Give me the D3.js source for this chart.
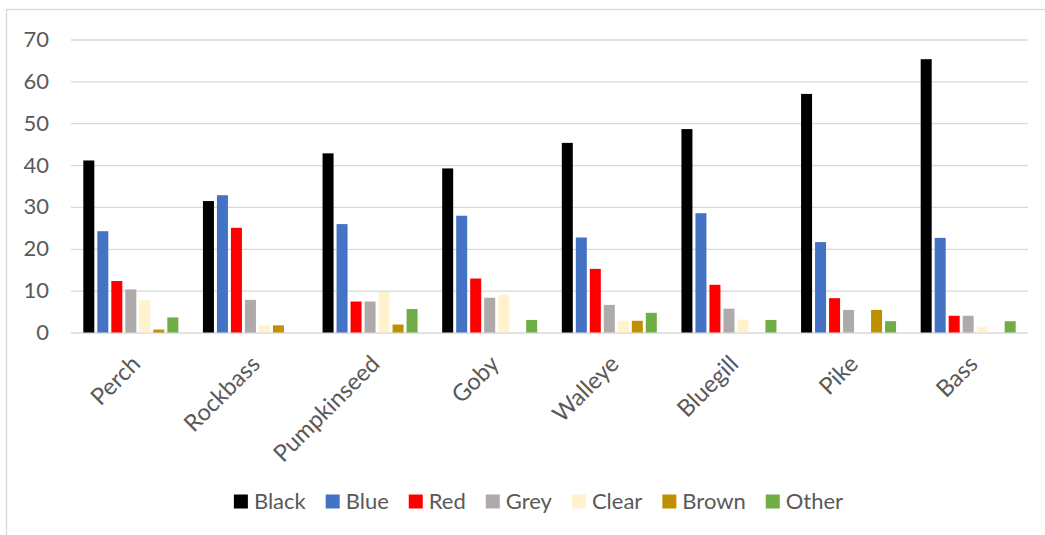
<!DOCTYPE html>
<html>
<head>
<meta charset="utf-8">
<script src="https://cdn.jsdelivr.net/npm/d3@7/dist/d3.min.js"></script>
<style>
  html, body { margin: 0; padding: 0; background: #ffffff; }
  svg { display: block; }
  text { font-family: Lato, "Open Sans", sans-serif; fill: #595959; }
</style>
</head>
<body>
<svg id="chart" width="1045" height="535"></svg>
<script>
const categories = ["Perch", "Rockbass", "Pumpkinseed", "Goby", "Walleye", "Bluegill", "Pike", "Bass"];
const seriesNames = ["Black", "Blue", "Red", "Grey", "Clear", "Brown", "Other"];
const seriesColors = ["#000000", "#4472C4", "#FF0000", "#AEAAAA", "#FFF2CC", "#BF9000", "#70AD47"];

const black = [41.1, 31.4, 42.8, 39.2, 45.3, 48.6, 57.0, 65.3];
const blue  = [24.2, 32.8, 25.9, 27.9, 22.7, 28.5, 21.6, 22.6];
const red   = [12.3, 25.0, 7.4, 12.9, 15.2, 11.4, 8.2, 4.0];
const grey  = [10.3, 7.8, 7.4, 8.3, 6.6, 5.7, 5.4, 4.0];
const clear = [7.7, 1.7, 9.7, 9.0, 2.8, 3.1, 0, 1.4];
const brown = [0.7, 1.7, 1.9, 0, 2.8, 0, 5.4, 0];
const other = [3.6, 0, 5.6, 3.0, 4.7, 3.0, 2.7, 2.7];

const yTicks = [0, 10, 20, 30, 40, 50, 60, 70];

const seriesValues = [black, blue, red, grey, clear, brown, other];

const svg = d3.select("#chart");

// chart border (extends past right/bottom edges)
svg.append("rect")
  .attr("x", 6.5).attr("y", 9.5)
  .attr("width", 1100).attr("height", 600)
  .attr("fill", "none").attr("stroke", "#D9D9D9").attr("stroke-width", 1.3);

const plot = { left: 71, right: 1028, top: 39.5, bottom: 332.5 };

const x0 = d3.scaleBand().domain(categories).range([plot.left, plot.right]).padding(0);
const groupWidth = 95;
const x1 = d3.scaleBand().domain(seriesNames).range([0, groupWidth]).paddingInner(3 / 14).paddingOuter(0);
const groupOffset = (x0.bandwidth() - groupWidth) / 2;
const y = d3.scaleLinear().domain([0, 70]).range([plot.bottom, plot.top]);

// gridlines
const yAxis = d3.axisLeft(y).tickValues(yTicks).tickSize(-(plot.right - plot.left)).tickPadding(22).tickFormat(d3.format("d"));
const gy = svg.append("g").attr("transform", `translate(${plot.left},0)`).call(yAxis);
gy.select(".domain").remove();
gy.selectAll(".tick line").attr("stroke", "#D9D9D9").attr("stroke-width", 1.3);
gy.selectAll(".tick text").attr("font-size", "22px").attr("fill", "#595959")
  .style("font-family", "Lato, 'Open Sans', sans-serif");

// bars
const groups = svg.append("g").selectAll("g")
  .data(categories)
  .join("g")
  .attr("transform", d => `translate(${x0(d) + groupOffset},0)`);

groups.selectAll("rect")
  .data((c, ci) => seriesNames.map((s, si) => ({ s, si, v: seriesValues[si][ci] })))
  .join("rect")
  .attr("x", d => x1(d.s))
  .attr("width", x1.bandwidth())
  .attr("y", d => y(d.v))
  .attr("height", d => y(0) - y(d.v))
  .attr("fill", d => seriesColors[d.si]);

// x axis labels (rotated)
const xAxis = d3.axisBottom(x0).tickSize(0).tickPadding(0);
const gx = svg.append("g").attr("transform", `translate(0,${plot.bottom})`).call(xAxis);
gx.select(".domain").remove();
gx.selectAll(".tick text")
  .attr("font-size", "23.5px").attr("fill", "#595959")
  .style("font-family", "Lato, 'Open Sans', sans-serif")
  .attr("text-anchor", "end")
  .attr("dy", null)
  .attr("y", null)
  .attr("transform", "translate(11,33) rotate(-45)");

// legend
const legend = svg.append("g");
const items = legend.selectAll("g").data(seriesNames).join("g");
items.append("rect").attr("width", 14).attr("height", 14).attr("y", 494.5)
  .attr("fill", (d, i) => seriesColors[i]);
items.append("text").text(d => d).attr("x", 20).attr("y", 508.5)
  .attr("font-size", "22px");
const widths = [];
items.each(function () {
  const w = d3.select(this).select("text").node().getComputedTextLength();
  widths.push(20 + w);
});
const gap = 20;
const total = d3.sum(widths) + gap * (widths.length - 1);
let start = 538.5 - total / 2;
items.attr("transform", (d, i) => {
  const t = `translate(${start},0)`;
  start += widths[i] + gap;
  return t;
});
</script>
</body>
</html>
